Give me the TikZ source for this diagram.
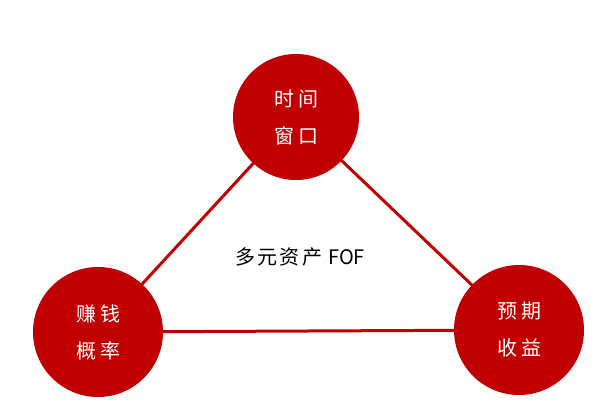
\documentclass[tikz,border=0pt]{standalone}
\usepackage{fontspec}
\newfontfamily\cjk[LetterSpace=20]{Noto Sans CJK SC}
\newfontfamily\cjkmedio[LetterSpace=12]{Noto Sans CJK SC}
\definecolor{rojo}{RGB}{192,0,0}

\begin{document}
\begin{tikzpicture}[line cap=round, line join=round, x=1pt, y=1pt,
		circulo/.style={circle, fill=rojo, minimum size=130pt, inner sep=0pt, align=center, text=white, font=\cjk\fontsize{20}{37}\selectfont},
		lado/.style={color=rojo, line width=3pt}]
		
		% Delimitar ventana de dibujo
		\useasboundingbox (0,0) rectangle (612,404);
		
		% Vértices del triángulo
		\node [circulo, minimum size=126pt] (tiempo) at (296,287) {时间\\窗口};
		\node [circulo] (ganar) at (98,72) {赚钱\\概率};
		\node [circulo] (retorno) at (519,74) {预期\\收益};
		
		% Lados del triángulo
		\draw [lado] (tiempo) -- (ganar);
		\draw [lado] (tiempo) -- (retorno);
		\draw [lado] (ganar) -- (retorno);
		
		% Etiqueta central
		\node [font=\fontsize{20}{22}\selectfont] (fof) at (300,147) {{\cjkmedio 多元资产} {\cjk\addfontfeature{LetterSpace=0}FOF}};
		
	\end{tikzpicture}
\end{document}
